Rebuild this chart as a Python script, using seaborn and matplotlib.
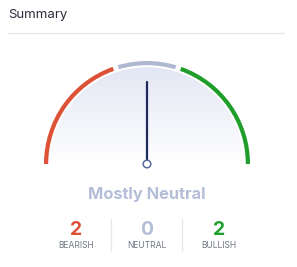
import numpy as np
import pandas as pd
import matplotlib
matplotlib.use("Agg")
import matplotlib.pyplot as plt
from matplotlib.patches import Wedge, Circle
from matplotlib.colors import LinearSegmentedColormap
import seaborn as sns

# ---- data ----
title = "Summary"
verdict = "Mostly Neutral"
categories = ["BEARISH", "NEUTRAL", "BULLISH"]
counts = [2, 0, 2]
cat_colors = ["#dd5137", "#b4bed8", "#1f9e2c"]
gauge_spans = [2, 1, 2]          # red | gray | green zones (fifths of the dial)
gauge_colors = ["#dd5137", "#aeb8d0", "#1f9e2c"]
needle_value = 0.5               # 0 = fully bearish, 1 = fully bullish

sns.set_theme(style="white")
plt.rcParams["font.family"] = ["Inter", "DejaVu Sans"]

W, H = 297, 267
fig = plt.figure(figsize=(W / 100, H / 100), dpi=100)
ax = fig.add_axes([0, 0, 1, 1])

def Y(y):  # pixel-from-top -> data
    return H - y

cx, cy = 147, Y(164)

# needle (drawn with seaborn)
ang = np.deg2rad(180 - 180 * needle_value)
L = 82
needle = pd.DataFrame({"x": [cx, cx + L * np.cos(ang)], "y": [cy, cy + L * np.sin(ang)]})
sns.lineplot(data=needle, x="x", y="y", ax=ax, color="#1f2b5e", lw=1.6, zorder=3,
             sort=False, estimator=None)

ax.set_xlim(0, W)
ax.set_ylim(0, H)
ax.axis("off")

# header
ax.text(8, Y(15), title, fontsize=9.5, color="#2b2b3a", va="center", ha="left")
ax.plot([8, 284], [Y(33), Y(33)], color="#e8e8ea", lw=1)

# gauge arcs
R = 103
arc_w = 4.2
gap = 1.5
total = sum(gauge_spans)
start = 180.0
for span, col in zip(gauge_spans, gauge_colors):
    sweep = 180.0 * span / total
    t2 = start
    t1 = start - sweep
    a1 = t1 + (gap if t1 > 0.1 else 0)
    a2 = t2 - (gap if t2 < 179.9 else 0)
    ax.add_patch(Wedge((cx, cy), R, a1, a2, width=arc_w, facecolor=col, edgecolor="none"))
    start = t1

# inner gradient fill
r_in = R - arc_w - 2
grad = np.linspace(1, 0, 256).reshape(-1, 1)
cmap = LinearSegmentedColormap.from_list("g", ["#ffffff", "#e3e7f4"])
im = ax.imshow(grad, extent=[cx - r_in, cx + r_in, cy, cy + r_in], cmap=cmap,
               aspect="auto", origin="upper", zorder=1)
clip = Wedge((cx, cy), r_in, 0, 180, facecolor="none", edgecolor="none")
ax.add_patch(clip)
im.set_clip_path(clip)

ax.add_patch(Circle((cx, cy), 3.8, facecolor="white", edgecolor="#5a6a9c", lw=1.1, zorder=4))
ax.set_xlim(0, W)
ax.set_ylim(0, H)

# verdict
ax.text(cx, Y(194), verdict, fontsize=11.8, fontweight="bold", color="#b4bed8",
        ha="center", va="center")

# counts
xs = [76, 147, 219]
for x, lab, c, col in zip(xs, categories, counts, cat_colors):
    ax.text(x, Y(230), str(c), fontsize=14, fontweight="bold", color=col, ha="center", va="center")
    ax.text(x, Y(246), lab, fontsize=6.1, color="#707684", ha="center", va="center")
for x in [111, 182]:
    ax.plot([x, x], [Y(219), Y(251)], color="#e6e7eb", lw=1)

fig.savefig("out.png", dpi=100, facecolor="white")
